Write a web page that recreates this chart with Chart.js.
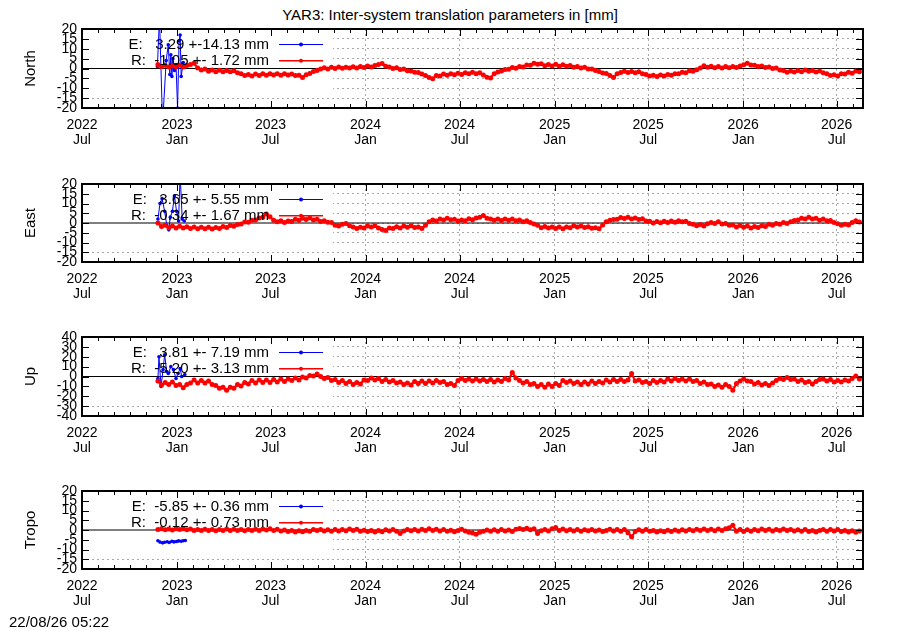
<!DOCTYPE html>
<html><head><meta charset="utf-8">
<script src="https://cdn.jsdelivr.net/npm/chart.js@4.4.1/dist/chart.umd.min.js"></script>
<style>
html,body{margin:0;padding:0;background:#fff;width:900px;height:630px;overflow:hidden;font-family:"Liberation Sans",Arial,sans-serif;color:#000;}
#title{position:absolute;left:0;top:6px;width:900px;text-align:center;font-size:15px;line-height:18px;}
#stamp{position:absolute;left:9px;top:613px;font-size:15px;line-height:18px;}
canvas{position:absolute;left:0;}
</style></head><body>
<div id="title">YAR3: Inter-system translation parameters in [mm]</div>
<canvas id="c0"></canvas><canvas id="c1"></canvas><canvas id="c2"></canvas><canvas id="c3"></canvas>
<div id="stamp">22/08/26 05:22</div>
<script>
// ---------------- data ----------------
const originDate = '2022-07-01';          // x axis origin (day 0)
const xEndDate = '2026-08-21';
const tickYears  = ['2022','2023','2023','2024','2024','2025','2025','2026','2026'];
const tickMonths = ['Jul','Jan','Jul','Jan','Jul','Jan','Jul','Jan','Jul'];
const tickDates  = ['2022-07-01','2023-01-01','2023-07-01','2024-01-01','2024-07-01','2025-01-01','2025-07-01','2026-01-01','2026-07-01'];

const panelNames = ['North','East','Up','Tropo'];
const yTicksSmall = [20,15,10,5,0,-5,-10,-15,-20];
const yTicksUp = [40,30,20,10,0,-10,-20,-30,-40];

// R series: sampled weekly starting at rStartDate
const rStartDate = '2022-11-25';
const rStepDays = 7;
const northR = [
2.0,1.0,1.6,0.8,1.5,0.9,1.6,0.8,1.5,2.0,
2.6,0.2,-0.8,-0.3,-1.4,-0.8,-1.6,-0.9,-1.7,-1.0,
-1.6,-1.2,-2.2,-2.6,-3.6,-3.0,-3.8,-2.8,-3.5,-2.7,
-3.4,-2.6,-3.3,-2.6,-3.4,-2.7,-3.3,-2.8,-3.6,-3.4,
-4.5,-3.2,-2.5,-1.5,-1.0,-0.2,0.4,-0.2,0.6,0.0,
0.7,0.1,0.6,0.2,0.9,0.3,1.0,0.5,1.3,0.7,
1.5,2.0,2.5,1.2,0.8,0.0,0.4,-0.5,-0.2,-1.1,
-1.3,-1.9,-2.0,-2.8,-3.5,-4.6,-5.2,-3.6,-3.8,-2.8,
-3.4,-2.6,-3.2,-2.4,-3.0,-2.2,-2.7,-1.9,-2.6,-2.2,
-3.3,-4.4,-4.8,-2.6,-1.8,-1.3,-0.5,-0.4,0.5,0.1,
1.0,0.8,1.8,1.6,2.7,2.1,2.4,1.4,2.0,1.3,
2.1,1.2,1.9,1.1,1.5,0.6,1.0,0.3,0.6,-0.3,
-0.2,-1.0,-1.5,-2.3,-2.5,-3.6,-4.6,-2.6,-2.0,-1.4,
-2.0,-1.5,-2.2,-1.7,-2.6,-3.0,-3.8,-3.4,-4.1,-3.3,
-3.8,-3.0,-3.4,-2.6,-2.6,-1.9,-2.1,-1.2,-1.4,-0.6,
0.3,1.4,0.6,1.2,0.4,1.0,0.3,1.0,0.4,1.0,
0.5,1.3,1.9,2.6,1.8,1.7,1.0,1.3,0.5,0.8,
0.0,0.2,-0.8,-1.0,-1.9,-1.3,-1.8,-1.0,-1.6,-0.8,
-1.4,-1.0,-1.8,-1.3,-2.2,-2.6,-3.6,-3.2,-3.8,-2.6,
-2.8,-1.9,-2.4,-1.3,-1.7];
const eastR = [
0.0,-1.8,-1.2,-2.4,-1.6,-2.5,-1.7,-2.6,-1.9,-2.8,
-2.0,-3.0,-2.2,-3.0,-2.2,-3.1,-2.3,-2.8,-1.8,-2.3,
-1.3,-1.7,-0.8,-0.5,0.5,0.4,1.4,1.6,2.6,3.0,
4.6,3.2,1.4,0.6,1.2,0.3,1.0,0.8,1.9,1.4,
2.5,1.8,2.6,1.6,1.9,0.8,1.2,0.4,0.3,-1.2,
-1.5,-0.6,-0.2,-1.4,-2.0,-2.8,-2.2,-2.6,-1.6,-2.0,
-1.4,-2.6,-3.3,-3.8,-2.6,-2.8,-1.9,-2.5,-1.6,-2.2,
-1.4,-2.3,-2.0,-2.8,-1.2,0.6,1.5,1.0,2.0,1.6,
2.5,1.7,1.9,1.0,1.6,1.2,2.2,1.7,2.6,2.9,
3.8,2.5,2.0,1.4,2.0,1.3,2.1,1.4,2.0,1.2,
1.6,0.7,1.2,0.3,-0.5,-1.2,-2.4,-1.8,-2.6,-2.0,
-2.8,-2.1,-2.9,-2.0,-2.4,-1.4,-2.0,-1.5,-2.3,-1.9,
-2.7,-2.4,-3.0,-1.0,0.6,1.4,1.8,1.9,2.8,2.3,
3.0,2.1,2.6,1.8,2.2,1.0,0.9,0.0,0.8,0.1,
0.9,0.2,1.0,0.4,1.2,0.6,0.9,-0.2,-0.6,-1.4,
-0.8,-1.6,-0.4,0.2,-0.3,0.6,-0.5,-0.2,-1.2,-1.0,
-2.0,-1.3,-2.2,-1.6,-2.5,-1.8,-2.3,-1.4,-1.8,-0.7,
-1.2,-0.2,-0.6,0.3,-0.2,0.6,1.3,1.6,2.4,2.0,
3.0,2.0,2.4,1.4,2.0,1.1,1.3,0.2,-0.4,-1.2,
-0.6,-1.0,0.3,1.2,0.5];
const upR = [
-4.5,-8.5,-6.0,-8.0,-5.5,-9.0,-8.0,-11.5,-8.0,-6.5,
-3.5,-6.5,-4.0,-6.5,-4.5,-8.0,-9.0,-12.0,-11.0,-14.0,
-11.0,-12.0,-8.0,-9.5,-6.0,-7.5,-4.0,-6.5,-3.5,-6.0,
-3.5,-6.0,-3.0,-5.5,-2.5,-5.0,-2.5,-4.0,-1.5,-3.5,
-0.5,-1.5,1.0,0.5,2.5,0.0,-2.0,-1.0,-4.0,-3.0,
-6.0,-4.0,-7.0,-5.0,-8.0,-6.0,-7.5,-3.5,-4.0,-1.5,
-3.5,-2.0,-5.0,-3.0,-5.5,-4.0,-6.5,-5.5,-8.0,-6.5,
-8.5,-5.0,-7.0,-4.5,-7.0,-4.5,-6.5,-4.0,-6.0,-5.0,
-8.0,-7.0,-9.0,-4.0,-2.0,-4.0,-2.5,-4.5,-2.5,-4.5,
-3.0,-5.0,-3.0,-5.5,-3.5,-5.0,-2.0,-3.5,4.0,-1.5,
-4.0,-6.5,-5.0,-8.0,-7.0,-10.0,-8.0,-11.0,-7.5,-10.0,
-7.0,-9.0,-4.0,-6.0,-4.5,-7.0,-5.5,-8.0,-5.5,-7.5,
-4.5,-7.0,-5.0,-6.5,-3.5,-5.5,-3.0,-5.0,-3.0,-5.0,
-3.5,3.0,-4.5,-3.5,-6.0,-5.0,-7.0,-4.0,-6.0,-4.0,
-5.5,-2.5,-4.5,-2.0,-4.0,-2.5,-4.5,-2.5,-5.0,-4.0,
-7.0,-5.5,-8.0,-7.5,-10.0,-8.5,-11.0,-8.0,-10.0,-14.0,
-7.0,-4.5,-2.5,-4.5,-5.0,-7.5,-6.0,-8.5,-7.0,-9.0,
-6.5,-4.0,-2.0,-3.0,-1.0,-3.0,-2.5,-5.0,-3.5,-6.0,
-5.0,-7.5,-5.0,-3.0,-2.5,-4.5,-3.0,-5.5,-4.0,-5.5,
-3.5,-4.5,-2.0,0.5,-2.5];
const tropoR = [
0.3,0.6,0.1,0.5,0.0,0.6,0.2,0.7,0.1,0.5,
-0.2,0.3,-0.3,0.4,-0.2,0.3,-0.4,0.2,-0.3,0.5,
-0.2,0.4,-0.3,0.2,-0.4,0.3,-0.2,0.4,-0.3,0.5,
0.0,0.6,-0.2,0.4,-0.5,0.0,-0.8,-0.2,-1.0,-0.4,
-0.9,-0.2,-0.6,0.3,-0.3,0.2,-0.5,0.1,-0.6,0.2,
-0.5,0.3,-0.4,0.5,-0.2,0.4,-0.6,-0.1,-0.8,-0.2,
-1.0,-0.3,-0.9,0.1,-0.5,0.3,-0.6,-1.8,-0.5,0.2,
-0.4,0.3,-0.5,0.4,-0.3,0.6,-0.2,0.4,-0.5,0.2,
-0.7,-0.1,-0.9,-0.3,0.4,-0.5,-1.2,-1.6,-2.2,-1.2,
-0.6,0.0,-0.7,0.1,-0.6,0.3,-0.5,0.0,-0.8,0.4,
0.8,0.2,0.9,0.1,0.6,-1.8,-0.4,0.3,-0.5,0.6,
1.3,-0.2,0.5,-0.4,0.3,-0.5,0.2,-0.6,0.1,-0.4,
0.3,-0.5,0.0,-0.8,-0.2,0.4,-0.5,0.3,-0.7,0.2,
-1.4,-3.5,-0.8,0.1,-0.6,0.2,-0.7,-0.2,-1.0,-0.4,
-0.9,-0.1,-0.8,0.0,-0.6,0.1,-0.5,0.2,-0.4,0.4,
-0.2,0.5,-0.3,0.4,-0.4,0.5,-0.3,0.6,1.2,2.4,
-0.6,0.2,-0.8,0.1,-0.7,0.3,-0.4,0.5,-0.2,0.4,
-0.5,0.2,-0.3,0.5,-0.2,0.3,-0.5,0.1,-0.7,0.2,
-0.8,-0.2,-1.0,-0.3,0.2,-0.6,0.3,-0.5,0.2,-0.8,
-0.2,-1.0,-0.4,-1.1,-0.5];

// E series (days counted from originDate)
const northEDays = [146,150,156,163,167,170,172,174,176,179,182,185,188,190,192,196];
const northE     = [1,26,-28,4,12,-3,7,-4,5,-1,2,-20,14,17,-4,3];
const eastEDays  = [147,151,155,160,164,168,171,175,179,183,187,190,194,198];
const eastE      = [2,10,12.5,6,-1,-3.5,3,6,14,6,1,25,2,1];
const upEDays    = [147,149,153,157,160,164,167,172,177,182,186,190,193,199];
const upE        = [-2,20,-10,7,22,5,3,10,7,-2,3,8,0,2];
const tropoEDays = [147,151,156,160,165,169,174,178,183,187,192,196,200];
const tropoE     = [-5.5,-6.2,-6.6,-6.3,-6.0,-6.4,-5.8,-6.1,-5.9,-5.6,-5.8,-5.5,-5.4];

const keyTexts = [
  ['E:   3.29 +-14.13 mm','R:  -1.05 +- 1.72 mm'],
  ['E:   3.65 +- 5.55 mm','R:  -0.34 +- 1.67 mm'],
  ['E:   3.81 +- 7.19 mm','R:  -5.20 +- 3.13 mm'],
  ['E:  -5.85 +- 0.36 mm','R:  -0.12 +- 0.73 mm']
];

// ---------------- helpers ----------------
const DAY = 86400000;
const dayOf = s => Math.round((Date.parse(s + 'T00:00:00Z') - Date.parse(originDate + 'T00:00:00Z')) / DAY);
const xMax = dayOf(xEndDate);
const majorDays = tickDates.map(dayOf);
const minorDays = [];
for (let y = 2022; y <= 2026; y++) for (let m = 0; m < 12; m++) {
  const d = Math.round((Date.UTC(y, m, 1) - Date.parse(originDate + 'T00:00:00Z')) / DAY);
  if (d > 0 && d < xMax && !majorDays.includes(d)) minorDays.push(d);
}
const rStart = dayOf(rStartDate);
const toPts = (days, vals) => vals.map((v, i) => ({x: days[i], y: v}));
const rPts = vals => vals.map((v, i) => ({x: rStart + i * rStepDays, y: v}));

const FONT = '"Liberation Sans", Arial, Helvetica, sans-serif';
Chart.defaults.color = '#000';
Chart.defaults.font.family = FONT;

const layouts = [
  {top: 29, h: 79}, {top: 184, h: 78}, {top: 337, h: 79}, {top: 491, h: 78}
];
const series = [
  {r: northR, eDays: northEDays, e: northE, yTicks: yTicksSmall},
  {r: eastR,  eDays: eastEDays,  e: eastE,  yTicks: yTicksSmall},
  {r: upR,    eDays: upEDays,    e: upE,    yTicks: yTicksUp},
  {r: tropoR, eDays: tropoEDays, e: tropoE, yTicks: yTicksSmall}
];
const panelInfo = {};

const PADTOP = 20, XH = 50, YW = 82, PADRIGHT = 37, KEYW = 250;
const GRID = '#a8a8a8';

const framePlugin = {
  id: 'frame',
  beforeDatasetsDraw(chart) {
    const info = panelInfo[chart.canvas.id];
    const {ctx, chartArea: a, scales: {y}} = chart;
    const t = info.yTicks;
    const bottom = y.getPixelForValue((t[t.length - 2] + t[t.length - 3]) / 2);
    ctx.save();
    ctx.fillStyle = '#fff';
    ctx.fillRect(a.left + 1, a.top + 1, KEYW, bottom - a.top - 1);
    ctx.restore();
  },
  afterDatasetsDraw(chart) {
    const info = panelInfo[chart.canvas.id];
    const {ctx, chartArea: a} = chart;
    const ds = [chart.data.datasets[1], chart.data.datasets[2]];
    ctx.save();
    ctx.font = '15px ' + FONT;
    ctx.textAlign = 'right';
    ctx.textBaseline = 'middle';
    info.key.forEach((t, i) => {
      const yy = a.top + 15.5 + i * 16.3;
      ctx.fillStyle = '#000';
      ctx.fillText(t, a.left + 187, yy + 0.5);
      ctx.strokeStyle = ds[i].borderColor;
      ctx.lineWidth = i === 0 ? 1 : 1.6;
      ctx.beginPath();
      ctx.moveTo(a.left + 197, yy);
      ctx.lineTo(a.left + 241, yy);
      ctx.stroke();
      ctx.fillStyle = ds[i].borderColor;
      ctx.beginPath();
      ctx.arc(a.left + 219, yy, 2, 0, Math.PI * 2);
      ctx.fill();
    });
    ctx.restore();
  },
  afterDraw(chart) {
    const info = panelInfo[chart.canvas.id];
    const {ctx, chartArea: a, scales: {x, y}} = chart;
    ctx.save();
    ctx.strokeStyle = '#000';
    ctx.lineWidth = 1;
    ctx.beginPath();
    majorDays.forEach(d => {
      const px = Math.round(x.getPixelForValue(d)) + 0.5;
      ctx.moveTo(px, a.bottom); ctx.lineTo(px, a.bottom - 7);
      ctx.moveTo(px, a.top); ctx.lineTo(px, a.top + 7);
    });
    minorDays.forEach(d => {
      const px = Math.round(x.getPixelForValue(d)) + 0.5;
      ctx.moveTo(px, a.bottom); ctx.lineTo(px, a.bottom - 4);
      ctx.moveTo(px, a.top); ctx.lineTo(px, a.top + 4);
    });
    info.yTicks.forEach(v => {
      const py = Math.round(y.getPixelForValue(v)) + 0.5;
      ctx.moveTo(a.left, py); ctx.lineTo(a.left + 7, py);
      ctx.moveTo(a.right, py); ctx.lineTo(a.right - 7, py);
    });
    ctx.stroke();
    ctx.lineWidth = 2;
    ctx.strokeRect(a.left, a.top, a.right - a.left, a.bottom - a.top);
    ctx.restore();
  }
};

series.forEach((s, p) => {
  const L = layouts[p];
  const cv = document.getElementById('c' + p);
  panelInfo[cv.id] = {yTicks: s.yTicks, key: keyTexts[p]};
  cv.width = 900;
  cv.height = PADTOP + L.h + XH;
  cv.style.top = (L.top - PADTOP) + 'px';
  cv.style.width = '900px';
  cv.style.height = cv.height + 'px';
  const yMin = Math.min(...s.yTicks), yMax = Math.max(...s.yTicks);
  new Chart(cv, {
    type: 'line',
    data: {
      datasets: [
        {label: 'zero', data: [{x: 0, y: 0}, {x: xMax, y: 0}], borderColor: '#000', borderWidth: 1.2,
         pointRadius: 0, order: 3},
        {label: 'E', data: toPts(s.eDays, s.e), borderColor: '#0000ff', backgroundColor: '#0000ff',
         borderWidth: 1, pointRadius: 1.8, pointBorderWidth: 0, order: 2},
        {label: 'R', data: rPts(s.r), borderColor: '#ff0000', backgroundColor: '#ff0000',
         borderWidth: 2.2, pointRadius: 2.5, pointBorderWidth: 0, order: 1}
      ]
    },
    options: {
      responsive: false,
      animation: false,
      devicePixelRatio: 1,
      clip: 0,
      layout: {padding: {top: PADTOP, right: PADRIGHT, left: 0, bottom: 0}},
      plugins: {legend: {display: false}, tooltip: {enabled: false}},
      elements: {line: {tension: 0}},
      scales: {
        x: {
          type: 'linear', min: 0, max: xMax,
          afterBuildTicks: sc => { sc.ticks = majorDays.map(v => ({value: v})); },
          afterFit: sc => { sc.height = XH; },
          ticks: {autoSkip: false, maxRotation: 0, minRotation: 0, padding: 9,
                  font: {size: 14, lineHeight: 1.1, family: FONT}, color: '#000',
                  callback: (v, i) => [tickYears[i], tickMonths[i]]},
          grid: {drawTicks: false, lineWidth: 1,
                 color: c => (c.tick && c.chart.chartArea && c.scale.getPixelForValue(c.tick.value) < c.chart.chartArea.left + KEYW) ? 'rgba(0,0,0,0)' : GRID},
          border: {display: false, dash: [2, 3]}
        },
        y: {
          type: 'linear', min: yMin, max: yMax,
          afterBuildTicks: sc => { sc.ticks = s.yTicks.map(v => ({value: v})); },
          afterFit: sc => { sc.width = YW; },
          ticks: {autoSkip: false, padding: 5, font: {size: 14, family: FONT}, color: '#000',
                  callback: v => String(v)},
          grid: {drawTicks: false, lineWidth: 1, color: GRID},
          border: {display: false, dash: [2, 3]},
          title: {display: true, text: panelNames[p], font: {size: 15, family: FONT}, color: '#000',
                  padding: {top: 22, bottom: 0}}
        }
      }
    },
    plugins: [framePlugin]
  });
});
</script>
</body></html>
